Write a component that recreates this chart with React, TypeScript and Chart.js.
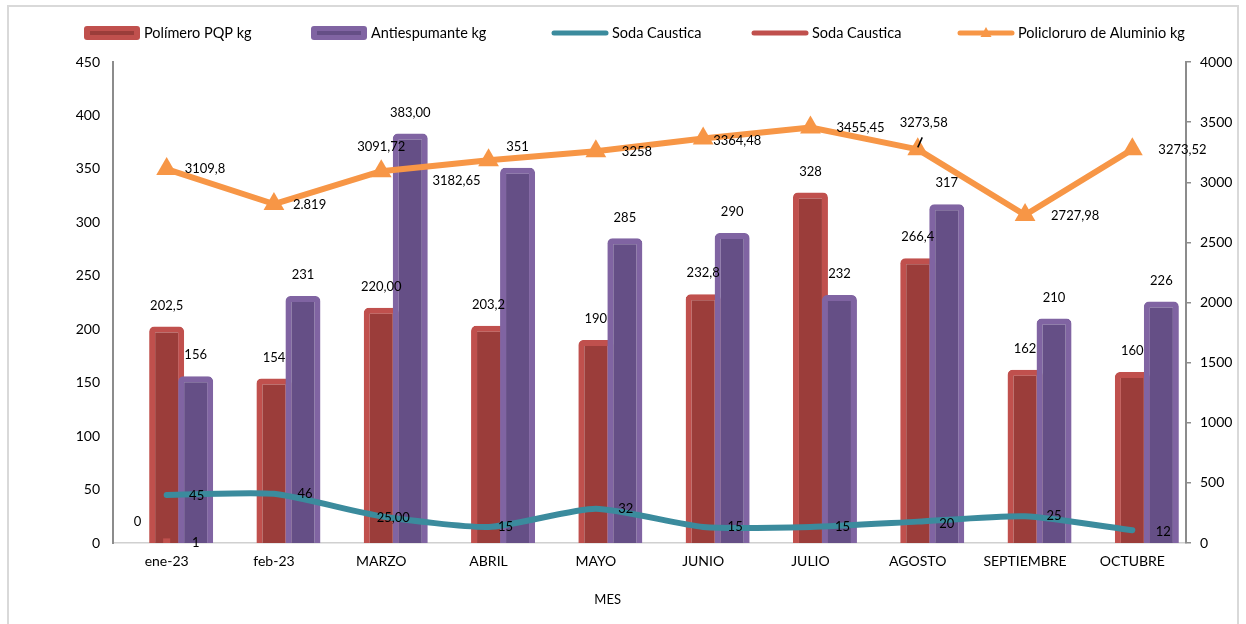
import React, { useEffect, useRef } from 'react';
import { Chart, registerables } from 'chart.js';

Chart.register(...registerables);

// ---------- DATA ----------
const categories = ['ene-23', 'feb-23', 'MARZO', 'ABRIL', 'MAYO', 'JUNIO', 'JULIO', 'AGOSTO', 'SEPTIEMBRE', 'OCTUBRE'];

const polimero = [202.5, 154, 220, 203.2, 190, 232.8, 328, 266.4, 162, 160];
const polimeroText = ['202,5', '154', '220,00', '203,2', '190', '232,8', '328', '266,4', '162', '160'];

const antiespumante = [156, 231, 383, 351, 285, 290, 232, 317, 210, 226];
const antiespumanteText = ['156', '231', '383,00', '351', '285', '290', '232', '317', '210', '226'];

const sodaTeal = [45, 46, 25, 15, 32, 15, 15, 20, 25, 12];
const sodaTealText = ['45', '46', '25,00', '15', '32', '15', '15', '20', '25', '12'];

const sodaRed = [1, null, null, null, null, null, null, null, null, null];
const sodaRedText = ['1', '', '', '', '', '', '', '', '', ''];

const sodaBar = [0, null, null, null, null, null, null, null, null, null];
const sodaBarText = ['0', '', '', '', '', '', '', '', '', ''];

const policloruro = [3109.8, 2819, 3091.72, 3182.65, 3258, 3364.48, 3455.45, 3273.58, 2727.98, 3273.52];
const policloruroText = ['3109,8', '2.819', '3091,72', '3182,65', '3258', '3364,48', '3455,45', '3273,58', '2727,98', '3273,52'];

const leftTicks = [0, 50, 100, 150, 200, 250, 300, 350, 400, 450];
const rightTicks = [0, 500, 1000, 1500, 2000, 2500, 3000, 3500, 4000];
const xTitle = 'MES';

// ---------- LABEL PLACEMENT (style only) ----------
const polLabelPos: [number, number, CanvasTextAlign][] = [
  [18, 0, 'left'], [19, 1, 'left'], [0, -24, 'center'], [-32, 21, 'center'], [26, 1, 'left'],
  [10, 2, 'left'], [26, 0, 'left'], [6, -27, 'center'], [26, 1, 'left'], [26, 0, 'left'],
];
const tealLabelPos: [number, number, CanvasTextAlign][] = [
  [30, 1, 'center'], [31, 0, 'center'], [12, 2, 'center'], [17, 0, 'center'], [30, 0, 'center'],
  [32, 0, 'center'], [32, 0, 'center'], [29, 2, 'center'], [29, 0, 'center'], [31, 2, 'center'],
];
const redLineLabelPos: [number, number, CanvasTextAlign][] = [[29, 1, 'center']];

const FONT = 'Lato, "Open Sans", "DejaVu Sans", sans-serif';
const RED = '#C0504D';
const RED_IN = '#9B3D3A';
const PURPLE = '#8064A2';
const PURPLE_IN = '#654F86';
const TEAL = '#3B8B9D';
const ORANGE = '#F79646';

export default function App() {
  const ref = useRef<HTMLCanvasElement>(null);

  useEffect(() => {
    const canvas = ref.current;
    if (!canvas) return;

    const framePlugin = {
      id: 'frame',
      beforeDraw(chart: any) {
        const ctx = chart.ctx;
        ctx.save();
        ctx.fillStyle = '#ffffff';
        ctx.fillRect(0, 0, chart.width, chart.height);
        ctx.strokeStyle = '#D9D9D9';
        ctx.lineWidth = 2;
        ctx.strokeRect(8, 6, 1230, 640);
        ctx.restore();
      },
    };

    const orderPlugin = {
      id: 'orderFix',
      beforeDatasetDraw(chart: any, args: any) {
        if (args.index === 5) return false;
        return undefined;
      },
      afterDatasetDraw(chart: any, args: any) {
        if (args.index === 4) {
          const meta = chart.getDatasetMeta(5);
          meta.controller.draw();
        }
      },
    };

    const labelPlugin = {
      id: 'dataLabels',
      afterDatasetsDraw(chart: any) {
        const ctx = chart.ctx;
        ctx.save();
        ctx.font = `13px ${FONT}`;
        ctx.fillStyle = '#000';
        ctx.textBaseline = 'middle';
        chart.data.datasets.forEach((ds: any, di: number) => {
          const meta = chart.getDatasetMeta(di);
          const texts: string[] = ds.dlTexts || [];
          meta.data.forEach((el: any, i: number) => {
            const t = texts[i];
            if (!t) return;
            if (ds.dlMode === 'bar') {
              ctx.textAlign = 'center';
              ctx.fillText(t, el.x, el.y - 21);
            } else {
              const pos = (ds.dlPos || [])[i] || [0, 0, 'center'];
              ctx.textAlign = pos[2];
              ctx.fillText(t, el.x + pos[0], el.y + pos[1]);
              if (ds.dlLeader && ds.dlLeader[i]) {
                ctx.strokeStyle = '#000';
                ctx.lineWidth = 1.5;
                ctx.beginPath();
                ctx.moveTo(el.x, el.y - 2);
                ctx.lineTo(el.x + 4.5, el.y - 12);
                ctx.stroke();
              }
            }
          });
        });
        // x axis title, centred where the reference has it
        const xs = chart.scales.x;
        ctx.textAlign = 'center';
        ctx.font = `13px ${FONT}`;
        ctx.fillText(xTitle, xs.left + (xs.right - xs.left) * 0.461, 600);
        ctx.restore();
      },
    };

    const legendItems = [
      { text: 'Polímero PQP kg', kind: 'bar', outer: RED, inner: RED_IN, x: 84 },
      { text: 'Antiespumante kg', kind: 'bar', outer: PURPLE, inner: PURPLE_IN, x: 311 },
      { text: 'Soda Caustica', kind: 'line', color: TEAL, x: 552 },
      { text: 'Soda Caustica', kind: 'line', color: RED, x: 752 },
      { text: 'Policloruro de Aluminio kg', kind: 'tri', color: ORANGE, x: 958 },
    ];

    const legendPlugin = {
      id: 'customLegend',
      afterDraw(chart: any) {
        const ctx = chart.ctx;
        const y = 33;
        const w = 56;
        ctx.save();
        legendItems.forEach((it: any) => {
          if (it.kind === 'bar') {
            ctx.fillStyle = it.outer;
            ctx.beginPath();
            (ctx as any).roundRect(it.x, y - 7, w, 14, 3);
            ctx.fill();
            ctx.fillStyle = it.inner;
            ctx.fillRect(it.x + 6, y - 2, w - 12, 4);
          } else {
            ctx.strokeStyle = it.color;
            ctx.lineWidth = 5;
            ctx.lineCap = 'round';
            ctx.beginPath();
            ctx.moveTo(it.x + 2, y);
            ctx.lineTo(it.x + w - 2, y);
            ctx.stroke();
            if (it.kind === 'tri') {
              ctx.fillStyle = it.color;
              const cx = it.x + w / 2;
              ctx.beginPath();
              ctx.moveTo(cx, y - 6);
              ctx.lineTo(cx + 5.5, y + 4);
              ctx.lineTo(cx - 5.5, y + 4);
              ctx.closePath();
              ctx.fill();
            }
          }
          ctx.fillStyle = '#000';
          ctx.font = `14.5px ${FONT}`;
          ctx.textAlign = 'left';
          ctx.textBaseline = 'middle';
          ctx.fillText(it.text, it.x + w + 4, y);
        });
        ctx.restore();
      },
    };

    const chart = new Chart(canvas, {
      type: 'bar',
      data: {
        labels: categories,
        datasets: [
          {
            type: 'line',
            label: 'Soda Caustica',
            data: sodaTeal,
            yAxisID: 'y',
            borderColor: TEAL,
            backgroundColor: TEAL,
            borderWidth: 6,
            pointRadius: 0,
            tension: 0.2,
            borderCapStyle: 'round',
            borderJoinStyle: 'round',
            dlTexts: sodaTealText,
            dlPos: tealLabelPos,
          } as any,
          {
            type: 'line',
            label: 'Soda Caustica',
            data: sodaRed,
            yAxisID: 'y',
            borderColor: RED,
            backgroundColor: RED,
            borderWidth: 5,
            pointStyle: 'rect',
            pointRadius: 5,
            pointBorderWidth: 0,
            dlTexts: sodaRedText,
            dlPos: redLineLabelPos,
          } as any,
          {
            type: 'line',
            label: 'Policloruro de Aluminio kg',
            data: policloruro,
            yAxisID: 'y1',
            borderColor: ORANGE,
            backgroundColor: ORANGE,
            borderWidth: 6,
            pointStyle: 'triangle',
            pointRadius: 12,
            pointBorderWidth: 0,
            tension: 0,
            borderJoinStyle: 'round',
            clip: false,
            dlTexts: policloruroText,
            dlPos: polLabelPos,
            dlLeader: [false, false, false, false, false, false, false, true, false, false],
          } as any,
          {
            type: 'bar',
            label: 'Soda Caustica bar',
            data: sodaBar,
            yAxisID: 'y',
            backgroundColor: 'rgba(0,0,0,0)',
            borderWidth: 0,
            dlTexts: sodaBarText,
            dlMode: 'bar',
          } as any,
          {
            type: 'bar',
            label: 'Polímero PQP kg',
            data: polimero,
            yAxisID: 'y',
            backgroundColor: RED_IN,
            borderColor: RED,
            borderWidth: 6,
            borderRadius: 5,
            borderSkipped: 'start',
            dlTexts: polimeroText,
            dlMode: 'bar',
          } as any,
          {
            type: 'bar',
            label: 'Antiespumante kg',
            data: antiespumante,
            yAxisID: 'y',
            backgroundColor: PURPLE_IN,
            borderColor: PURPLE,
            borderWidth: 6,
            borderRadius: 5,
            borderSkipped: 'start',
            dlTexts: antiespumanteText,
            dlMode: 'bar',
          } as any,
        ],
      },
      options: {
        responsive: false,
        animation: false,
        devicePixelRatio: 1,
        datasets: {
          bar: { categoryPercentage: 0.811, barPercentage: 1.207 },
        },
        layout: { padding: { top: 62, left: 0, right: 0, bottom: 0 } },
        plugins: {
          legend: { display: false },
          tooltip: { enabled: false },
          title: { display: false },
        },
        scales: {
          x: {
            offset: true,
            grid: { display: false, drawTicks: false },
            border: { display: true, color: '#D0D0D0', width: 1.5 },
            ticks: { color: '#000', font: { family: FONT, size: 14 }, padding: 10, maxRotation: 0, autoSkip: false },
            afterFit(scale: any) { scale.height = 81; },
          },
          y: {
            position: 'left',
            min: 0,
            max: 450,
            afterBuildTicks(scale: any) { scale.ticks = leftTicks.map((v) => ({ value: v })); },
            grid: { display: false, drawTicks: false },
            border: { display: true, color: '#8C8C8C', width: 2 },
            ticks: { color: '#000', font: { family: FONT, size: 14 }, padding: 13, callback: (v: any) => String(v) },
            afterFit(scale: any) { scale.width = 113; },
          },
          y1: {
            position: 'right',
            min: 0,
            max: 4000,
            afterBuildTicks(scale: any) { scale.ticks = rightTicks.map((v) => ({ value: v })); },
            grid: { display: true, drawOnChartArea: false, drawTicks: true, tickLength: 5, color: '#8C8C8C', lineWidth: 1.5 },
            border: { display: true, color: '#8C8C8C', width: 2 },
            ticks: { color: '#000', font: { family: FONT, size: 14 }, padding: 9, callback: (v: any) => String(v) },
            afterFit(scale: any) { scale.width = 60; },
          },
        },
      } as any,
      plugins: [framePlugin, orderPlugin, labelPlugin, legendPlugin],
    });

    return () => chart.destroy();
  }, []);

  return (
    <div style={{ position: 'fixed', left: 0, top: 0, width: 1246, height: 624, background: '#fff' }}>
      <canvas ref={ref} width={1246} height={624} style={{ display: 'block', width: 1246, height: 624 }} />
    </div>
  );
}
